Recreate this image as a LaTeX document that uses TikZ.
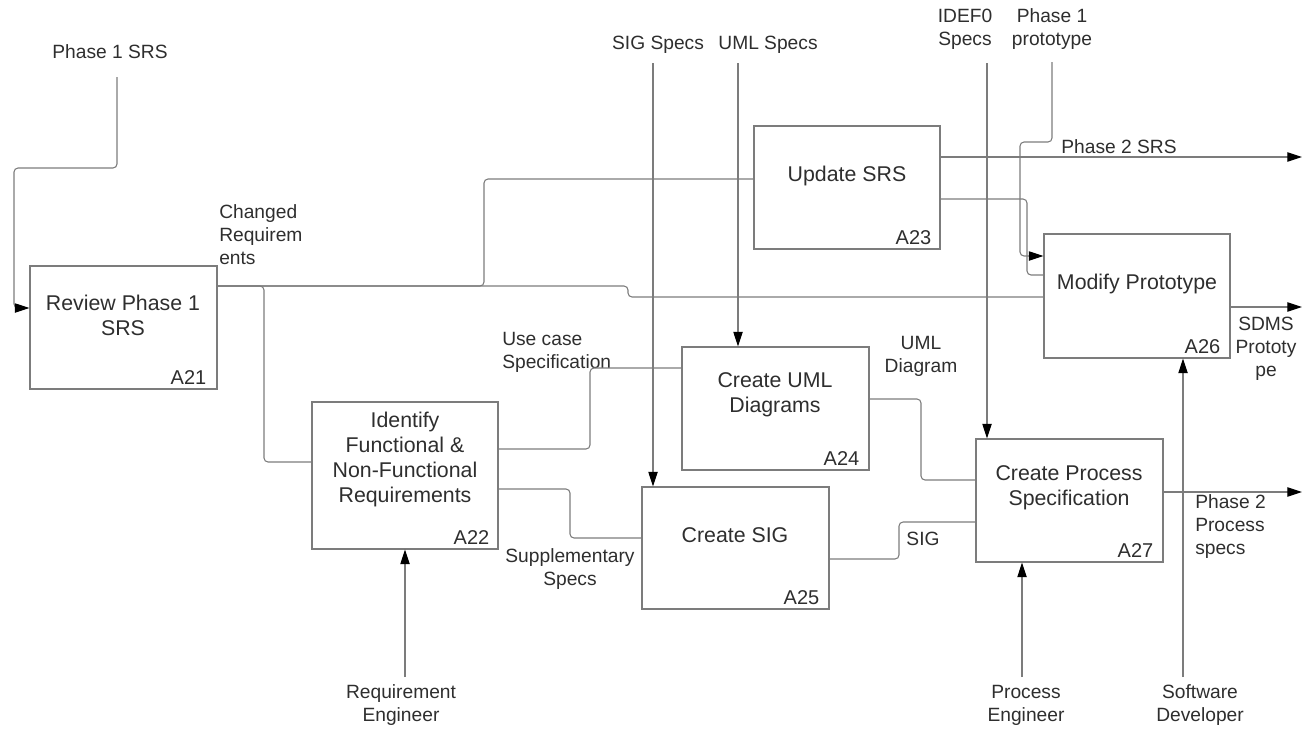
\documentclass[tikz,border=0pt]{standalone}
\usepackage{fontspec}
\setmainfont{Liberation Sans}
\usetikzlibrary{arrows.meta,calc}
\definecolor{linec}{HTML}{7C7C7C}
\definecolor{textc}{HTML}{2E2E2E}
\tikzset{
  pbox/.style 2 args={draw=linec, line width=0.8pt, minimum width=#1*0.75pt, minimum height=#2*0.75pt, inner sep=0pt},
  conn/.style={draw=linec, line width=0.8pt, rounded corners=3pt},
  arr/.style={-{Triangle[length=11pt,width=7pt,color=black]}},
  btext/.style={text=textc, font=\fontsize{16}{18.75}\selectfont, align=center, inner sep=0pt},
  lbl/.style={text=textc, font=\fontsize{14.4}{17.25}\selectfont, align=center, inner sep=0pt},
  lbll/.style={text=textc, font=\fontsize{14.4}{17.25}\selectfont, align=left, inner sep=0pt, anchor=west},
  idt/.style={text=textc, font=\fontsize{15}{18}\selectfont, inner sep=0pt, anchor=base east}
}
\begin{document}
\begin{tikzpicture}[x=0.75pt,y=-0.75pt]
\useasboundingbox (0,0) rectangle (1305,729);

% ---------- boxes ----------
\node[pbox={187}{123}] (a21) at (123.5,327.5) {};
\node[pbox={186}{147}] (a22) at (405,475.5) {};
\node[pbox={186}{123}] (a23) at (847,187.5) {};
\node[pbox={187}{123}] (a24) at (775.5,408.5) {};
\node[pbox={187}{122}] (a25) at (735.5,548) {};
\node[pbox={186}{124}] (a26) at (1137,296) {};
\node[pbox={187}{123}] (a27) at (1069.5,500.5) {};

% box texts
\node[btext] (a21t) at (123,315) {Review Phase 1\\SRS};
\node[btext] (a22t) at (405,459) {Identify\\Functional \&\\Non-Functional\\Requirements};
\node[btext] (a23t) at (847,176) {Update SRS};
\node[btext] (a24t) at (775,395) {Create UML\\Diagrams};
\node[btext] (a25t) at (735,535) {Create SIG};
\node[btext] (a26t) at (1137,284) {Modify Prototype};
\node[btext] (a27t) at (1069,488) {Create Process\\Specification};

% box ids
\node[idt] (a21id) at ($(a21.south east)+(-11,-5)$) {A21};
\node[idt] (a22id) at ($(a22.south east)+(-9,-5)$) {A22};
\node[idt] (a23id) at ($(a23.south east)+(-9,-5)$) {A23};
\node[idt] (a24id) at ($(a24.south east)+(-10,-5)$) {A24};
\node[idt] (a25id) at ($(a25.south east)+(-10,-5)$) {A25};
\node[idt] (a26id) at ($(a26.south east)+(-10,-5)$) {A26};
\node[idt] (a27id) at ($(a27.south east)+(-10,-5)$) {A27};

% ---------- labels ----------
\node[lbl] (lp1srs) at (110,52) {Phase 1 SRS};
\node[lbll] (lcr) at (219,235) {Changed\\Requirem\\ents};
\node[lbll] (luc) at (502,352.5) {Use case\\Specification};
\node[lbl] (lsup) at (570,569) {Supplementary\\Specs};
\node[lbl] (lumld) at (921,356) {UML\\Diagram};
\node[lbl] (lsig) at (923,539) {SIG};
\node[lbl] (lp2srs) at (1119,147) {Phase 2 SRS};
\node[lbl] (lsdms) at (1266,349) {SDMS\\Prototy\\pe};
\node[lbll] (lp2ps) at (1195,527) {Phase 2\\Process\\specs};
\node[lbl] (lsigs) at (658,45) {SIG Specs};
\node[lbl] (lumls) at (768,45) {UML Specs};
\node[lbl] (lidef) at (965,29) {IDEF0\\Specs};
\node[lbl] (lp1p) at (1052,29) {Phase 1\\prototype};
\node[lbl] (lre) at (401,705) {Requirement\\Engineer};
\node[lbl] (lpe) at (1026,705) {Process\\Engineer};
\node[lbl] (lsd) at (1200,705) {Software\\Developer};

% ---------- free ends ----------
\coordinate (p1s) at (117,77);
\coordinate (sigtop) at (653,63);
\coordinate (umltop) at (738,63);
\coordinate (idtop) at (987,63);
\coordinate (p1ptop) at (1052,62);
\coordinate (retop) at (405,677);
\coordinate (petop) at (1022,677);
\coordinate (sdtop) at (1183,677);
\coordinate (o1) at (1302,157);
\coordinate (o2) at (1302,307);
\coordinate (o3) at (1302,492);

% ---------- connectors ----------
% Phase 1 SRS -> A21
\draw[conn,arr] (p1s) -- (117,168) -- (14,168) -- (14,308) -- (a21.west |- 0,308);
% Changed requirements
\draw[conn] (a21.east |- 0,286) -- (628,286) -- (628,297) -- (a26.west |- 0,297);
\draw[conn] (a21.east |- 0,286) -- (264,286) -- (264,462) -- (a22.west |- 0,462);
\draw[conn] (a21.east |- 0,286) -- (484,286) -- (484,179) -- (a23.west |- 0,179);
% A22 outputs
\draw[conn] (a22.east |- 0,449) -- (590,449) -- (590,368) -- (a24.west |- 0,368);
\draw[conn] (a22.east |- 0,489) -- (570,489) -- (570,538) -- (a25.west |- 0,538);
% A24 -> A27
\draw[conn] (a24.east |- 0,399) -- (921,399) -- (921,480) -- (a27.west |- 0,480);
% A25 -> A27
\draw[conn] (a25.east |- 0,559) -- (899,559) -- (899,522) -- (a27.west |- 0,522);
% A23 outputs
\draw[conn,arr] (a23.east |- 0,157) -- (o1);
\draw[conn] (a23.east |- 0,199) -- (1027,199) -- (1027,275) -- (a26.west |- 0,275);
% Phase 1 prototype -> A26
\draw[conn,arr] (p1ptop) -- (1052,142) -- (1020,142) -- (1020,256) -- (a26.west |- 0,256);
% outputs
\draw[conn,arr] (a26.east |- 0,307) -- (o2);
\draw[conn,arr] (a27.east |- 0,492) -- (o3);
% controls
\draw[conn,arr] (sigtop) -- (sigtop |- a25.north);
\draw[conn,arr] (umltop) -- (umltop |- a24.north);
\draw[conn,arr] (idtop) -- (idtop |- a27.north);
% mechanisms
\draw[conn,arr] (retop) -- (retop |- a22.south);
\draw[conn,arr] (petop) -- (petop |- a27.south);
\draw[conn,arr] (sdtop) -- (sdtop |- a26.south);
\end{tikzpicture}
\end{document}
